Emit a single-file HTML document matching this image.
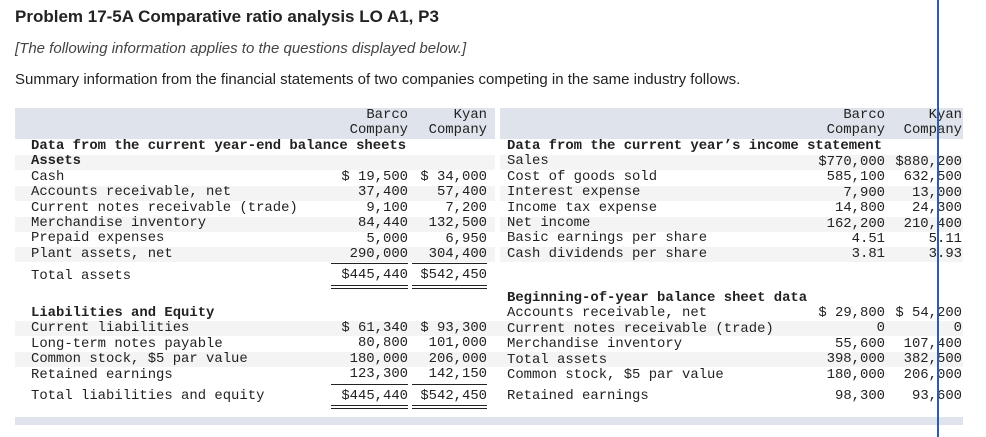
<!DOCTYPE html>
<html><head><meta charset="utf-8"><style>
body{margin:0;width:986px;height:437px;background:#fff;position:relative;overflow:hidden;font-family:"Liberation Sans",sans-serif;color:#222}
.a{position:absolute;white-space:pre}
.m{font-family:"Liberation Mono",monospace;font-size:13.9px;line-height:15.4px;color:#222}
.b{font-weight:bold}
.r{text-align:right}
.band{position:absolute;background:#dfe4ec}
.st{position:absolute;background:#f4f4f4;height:15px}
.ul{position:absolute;height:1px;background:#222}
</style></head><body>
<div class="a" style="left:15px;top:7px;font-size:17px;font-weight:bold">Problem 17-5A Comparative ratio analysis LO A1, P3</div>
<div class="a" style="left:15px;top:40px;font-size:15px;font-style:italic;color:#444">[The following information applies to the questions displayed below.]</div>
<div class="a" style="left:15px;top:71px;font-size:15px">Summary information from the financial statements of two companies competing in the same industry follows.</div>

<div class="band" style="left:15px;top:108px;width:480px;height:31px"></div>
<div class="band" style="left:500px;top:108px;width:463px;height:31px"></div>
<div class="band" style="left:15px;top:417px;width:948px;height:8px"></div>

<div class="st" style="left:15px;top:155px;width:480px"></div>
<div class="st" style="left:15px;top:186px;width:480px"></div>
<div class="st" style="left:15px;top:217px;width:480px"></div>
<div class="st" style="left:15px;top:247px;width:480px"></div>
<div class="st" style="left:500px;top:155px;width:463px"></div>
<div class="st" style="left:500px;top:186px;width:463px"></div>
<div class="st" style="left:500px;top:217px;width:463px"></div>
<div class="st" style="left:500px;top:247px;width:463px"></div>
<div class="st" style="left:15px;top:321px;width:948px"></div>
<div class="st" style="left:15px;top:352px;width:948px"></div>

<div class="a m r" style="left:300px;top:108px;width:108px">Barco
Company</div>
<div class="a m r" style="left:400px;top:108px;width:87px">Kyan
Company</div>
<div class="a m r" style="left:780px;top:108px;width:105px">Barco
Company</div>
<div class="a m r" style="left:880px;top:108px;width:82px">Kyan
Company</div>

<div class="a m" style="left:31px;top:139px"><b>Data from the current year-end balance sheets</b>
<b>Assets</b>
Cash
Accounts receivable, net
Current notes receivable (trade)
Merchandise inventory
Prepaid expenses
Plant assets, net</div>
<div class="a m" style="left:31px;top:269px">Total assets</div>
<div class="a m r" style="left:300px;top:170px;width:108px">$ 19,500
37,400
9,100
84,440
5,000
290,000</div>
<div class="a m r" style="left:400px;top:170px;width:87px">$ 34,000
57,400
7,200
132,500
6,950
304,400</div>
<div class="a m r" style="left:300px;top:268px;width:108px">$445,440</div>
<div class="a m r" style="left:400px;top:268px;width:87px">$542,450</div>
<div class="ul" style="left:331px;top:263px;width:77px"></div>
<div class="ul" style="left:412px;top:263px;width:75px"></div>
<div class="ul" style="left:331px;top:285px;width:77px"></div>
<div class="ul" style="left:412px;top:285px;width:75px"></div>
<div class="ul" style="left:331px;top:288px;width:77px"></div>
<div class="ul" style="left:412px;top:288px;width:75px"></div>

<div class="a m" style="left:507px;top:139px"><b>Data from the current year’s income statement</b>
Sales
Cost of goods sold
Interest expense
Income tax expense
Net income
Basic earnings per share
Cash dividends per share</div>
<div class="a m r" style="left:780px;top:155px;width:105px">$770,000
585,100
7,900
14,800
162,200
4.51
3.81</div>
<div class="a m r" style="left:880px;top:155px;width:82px">$880,200
632,500
13,000
24,300
210,400
5.11
3.93</div>

<div class="a m" style="left:31px;top:306px"><b>Liabilities and Equity</b>
Current liabilities
Long-term notes payable
Common stock, $5 par value
Retained earnings</div>
<div class="a m" style="left:31px;top:389px">Total liabilities and equity</div>
<div class="a m r" style="left:300px;top:321px;width:108px">$ 61,340
80,800
180,000
123,300</div>
<div class="a m r" style="left:400px;top:321px;width:87px">$ 93,300
101,000
206,000
142,150</div>
<div class="a m r" style="left:300px;top:389px;width:108px">$445,440</div>
<div class="a m r" style="left:400px;top:389px;width:87px">$542,450</div>
<div class="ul" style="left:331px;top:384px;width:77px"></div>
<div class="ul" style="left:412px;top:384px;width:75px"></div>
<div class="ul" style="left:331px;top:405px;width:77px"></div>
<div class="ul" style="left:412px;top:405px;width:75px"></div>
<div class="ul" style="left:331px;top:408px;width:77px"></div>
<div class="ul" style="left:412px;top:408px;width:75px"></div>

<div class="a m" style="left:507px;top:291px"><b>Beginning-of-year balance sheet data</b>
Accounts receivable, net
Current notes receivable (trade)
Merchandise inventory
Total assets
Common stock, $5 par value</div>
<div class="a m" style="left:507px;top:389px">Retained earnings</div>
<div class="a m r" style="left:780px;top:306px;width:105px">$ 29,800
0
55,600
398,000
180,000</div>
<div class="a m r" style="left:880px;top:306px;width:82px">$ 54,200
0
107,400
382,500
206,000</div>
<div class="a m r" style="left:780px;top:389px;width:105px">98,300</div>
<div class="a m r" style="left:880px;top:389px;width:82px">93,600</div>

<div style="position:absolute;left:937px;top:0;width:1.5px;height:437px;background:#2a5db0"></div>
</body></html>
